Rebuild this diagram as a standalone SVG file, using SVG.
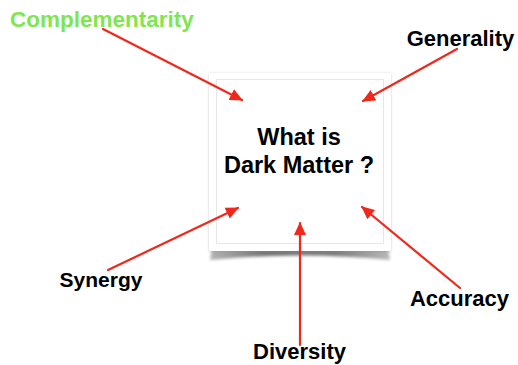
<svg xmlns="http://www.w3.org/2000/svg" width="518" height="365" viewBox="0 0 518 365">
  <style>
    .label { font-family: "Liberation Sans", Arial, Helvetica, sans-serif; font-weight: bold; fill: #000; }
    .title { font-family: "Liberation Sans", Arial, Helvetica, sans-serif; font-weight: bold; fill: #000; font-size: 23.5px; text-anchor: middle; }
    .arrow { stroke: #f0281c; stroke-width: 2.2; fill: none; stroke-linecap: round; marker-end: url(#head); }
  </style>
  <defs>
    <marker id="head" viewBox="0 0 13 13" refX="12" refY="6.5" markerWidth="13" markerHeight="13" markerUnits="userSpaceOnUse" orient="auto">
      <path d="M0,0.5 L13,6.5 L0,12.5 Z" fill="#f0281c"/>
    </marker>
    <filter id="frameShadow" x="-10%" y="-10%" width="120%" height="120%">
      <feDropShadow dx="0" dy="0.5" stdDeviation="1.3" flood-color="#8a8a8a" flood-opacity="0.5"/>
    </filter>
    <filter id="blur" x="-10%" y="-100%" width="120%" height="300%">
      <feGaussianBlur stdDeviation="1.8"/>
    </filter>
    <linearGradient id="curl" x1="0" y1="0" x2="1" y2="0">
      <stop offset="0" stop-color="#b4b4b4"/>
      <stop offset="0.3" stop-color="#747474"/>
      <stop offset="0.7" stop-color="#7c7c7c"/>
      <stop offset="1" stop-color="#b8b8b8"/>
    </linearGradient>
  </defs>

  <!-- central card with curled bottom shadow -->
  <g id="card">
    <path d="M212,248 L388,248 L390,260 Q300,251 210,260 Z" fill="url(#curl)" filter="url(#blur)"/>
    <rect x="209" y="73" width="182" height="178" fill="#fff" filter="url(#frameShadow)"/>
    <rect x="216.5" y="79.5" width="167" height="164" fill="#fff" stroke="#e6e6e6" stroke-width="1"/>
    <text class="title" x="299" y="145">What is</text>
    <text class="title" x="299" y="173">Dark Matter ?</text>
  </g>

  <!-- labels -->
  <g id="complementarity">
    <text class="label" x="10" y="27" font-size="22.5" style="fill:#7fe650">Complementarity</text>
  </g>
  <g id="generality">
    <text class="label" x="460.5" y="46" font-size="22" text-anchor="middle">Generality</text>
  </g>
  <g id="synergy">
    <text class="label" x="101" y="287" font-size="21" text-anchor="middle">Synergy</text>
  </g>
  <g id="accuracy">
    <text class="label" x="459.5" y="306" font-size="22" text-anchor="middle">Accuracy</text>
  </g>
  <g id="diversity">
    <text class="label" x="299.5" y="359" font-size="22" text-anchor="middle">Diversity</text>
  </g>

  <!-- connectors -->
  <g id="connectors">
    <line class="arrow" x1="103" y1="29" x2="242" y2="100"/>
    <line class="arrow" x1="457" y1="49" x2="363" y2="101"/>
    <line class="arrow" x1="108" y1="270" x2="238" y2="208"/>
    <line class="arrow" x1="300" y1="345" x2="300" y2="223"/>
    <line class="arrow" x1="460" y1="288" x2="362" y2="207"/>
  </g>
</svg>
